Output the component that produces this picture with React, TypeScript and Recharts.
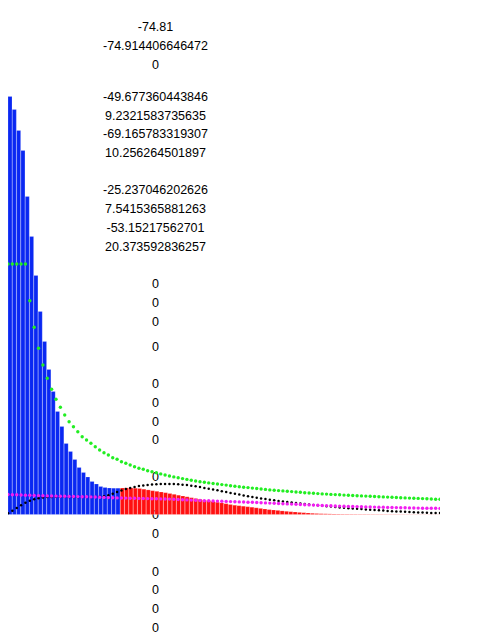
import { ComposedChart, Bar, Cell, Line, XAxis, YAxis } from "recharts";

// 100 bins: the first ones blue, the rest red
const bins = Array.from({ length: 100 }, (_, i) => i + 1);

const blueCounts = [
  418, 405, 384, 364, 318, 278, 239, 203, 173, 145, 123, 103, 88, 71, 63, 55,
  47, 42, 37.5, 33, 30.5, 28, 27, 26.5, 26.3, 26.3,
];

const redCounts = [
  26.5, 26.6, 26.6, 26.3, 26, 25.3, 24.6, 23.8, 23.2, 22.5, 21.8, 21, 20.2,
  19.3, 18.5, 17.7, 16.8, 16, 15.2, 14.4, 13.7, 13, 12.3, 11.6, 10.8, 10, 9.3,
  8.8, 8.3, 7.8, 7.3, 6.7, 6.1, 5.5, 4.9, 4.5, 4.1, 3.6, 3.2, 2.8, 2.5, 2.1,
  1.8, 1.5, 1.2, 1, 0.8, 0.7, 0.6, 0.5, 0.45, 0.4, 0.38, 0.35, 0.33, 0.3, 0.3,
  0.28, 0.26, 0.25, 0.24, 0.22, 0.2, 0.2, 0.18, 0.17, 0.16, 0.15, 0.14, 0.13,
  0.12, 0.12, 0.11, 0.1,
];

const greenCurve = [
  250.5, 250.5, 250.5, 250.5, 250.5, 213.8, 187.2, 166.2, 149.5, 136.2,
  125.2, 115.2, 107.2, 99.5, 92.8, 87.8, 82.8, 77.8, 74.5, 71.2,
  67.8, 64.5, 61.8, 59.5, 56.8, 55.2, 52.8, 51.2, 49.5, 47.8,
  46.2, 45.2, 43.8, 42.8, 41.8, 40.6, 39.5, 38.5, 37.6, 36.7,
  35.9, 35.1, 34.3, 33.5, 32.8, 32.2, 31.6, 31, 30.5, 29.9,
  29.4, 28.8, 28.3, 27.8, 27.3, 26.9, 26.4, 26, 25.5, 25.1,
  24.6, 24.3, 23.9, 23.6, 23.2, 22.9, 22.5, 22.2, 21.8, 21.5,
  21.2, 20.9, 20.6, 20.4, 20.1, 19.9, 19.7, 19.4, 19.2, 19,
  18.8, 18.6, 18.4, 18.2, 18, 17.8, 17.6, 17.4, 17.2, 17,
  16.8, 16.6, 16.4, 16.2, 16.1, 15.9, 15.7, 15.5, 15.3, 15.2,
];

const magentaCurve = [
  20, 19.8, 19.7, 19.5, 19.3, 19.2, 19, 18.9, 18.7, 18.6,
  18.5, 18.4, 18.3, 18.2, 18.1, 18, 17.9, 17.8, 17.7, 17.6,
  17.5, 17.3, 17.1, 16.9, 16.8, 16.6, 16.5, 16.4, 16.3, 16.2,
  16.1, 16, 15.9, 15.8, 15.7, 15.6, 15.5, 15.4, 15.2, 15,
  14.8, 14.6, 14.4, 14.2, 14, 13.8, 13.7, 13.5, 13.4, 13.2,
  13.1, 12.9, 12.8, 12.6, 12.5, 12.3, 12.2, 12, 11.8, 11.6,
  11.4, 11.2, 11, 10.8, 10.6, 10.4, 10.2, 10, 9.8, 9.6,
  9.4, 9.2, 9, 8.9, 8.7, 8.5, 8.4, 8.2, 8.1, 8,
  7.9, 7.8, 7.6, 7.5, 7.4, 7.3, 7.2, 7.1, 7, 6.9,
  6.8, 6.7, 6.6, 6.5, 6.4, 6.3, 6.3, 6.2, 6.2, 6.1,
];

const blackCurve = [
  1.2, 3.8, 6.5, 9.2, 11.8, 13.8, 15.2, 16.2, 17, 17.4,
  17.6, 17.7, 17.7, 17.7, 17.6, 17.6, 17.5, 17.5, 17.5, 17.5,
  17.6, 17.8, 18.3, 19.2, 20.8, 22.4, 24, 25.4, 26.6, 27.6,
  28.4, 29, 29.5, 29.9, 30.2, 30.4, 30.5, 30.5, 30.4, 30.2,
  29.8, 29.4, 28.8, 28.2, 27.4, 26.6, 25.8, 25, 24.2, 23.3,
  22.4, 21.6, 20.8, 19.9, 19.1, 18.3, 17.5, 16.8, 16.1, 15.4,
  14.8, 14.2, 13.6, 13.1, 12.6, 12.1, 11.6, 11.1, 10.6, 10.1,
  9.6, 9.2, 8.8, 8.3, 7.9, 7.5, 7.1, 6.7, 6.3, 6,
  5.7, 5.4, 5.1, 4.8, 4.5, 4.2, 3.9, 3.6, 3.3, 3.1,
  2.9, 2.7, 2.5, 2.3, 2.1, 1.9, 1.7, 1.6, 1.5, 1.4,
];

const notes = [
  "-74.81", "-74.914406646472", "0",
  "-49.677360443846", "9.2321583735635", "-69.165783319307", "10.256264501897",
  "-25.237046202626", "7.5415365881263", "-53.15217562701", "20.373592836257",
  "0", "0", "0", "0", "0", "0", "0", "0", "0", "0", "0", "0", "0", "0", "0",
];

// vertical centre of each note, page pixels
const noteY = [
  27.3, 46, 65, 97.3, 116, 134.3, 153.3, 190, 209.3, 228.3, 246.7, 284, 302.7,
  321.7, 346.7, 384, 402.7, 421.7, 440, 477.3, 515, 534, 571.7, 590, 609, 627.7,
];

const counts = [...blueCounts, ...redCounts];

const rows = bins.map((bin, i) => ({
  bin,
  i,
  count: counts[i],
  green: greenCurve[i],
  magenta: magentaCurve[i],
  black: blackCurve[i],
}));

export default function App() {
  return (
    <div style={{ position: "relative", width: 464, height: 624 }}>
      {notes.map((t, k) => (
        <span
          key={k}
          style={{
            position: "absolute",
            left: 147.5,
            top: noteY[k] - 8,
            transform: "translate(-50%, -50%)",
            whiteSpace: "nowrap",
            fontFamily: "'Liberation Sans', Arial, sans-serif",
            fontSize: 12.5,
            color: "#000",
          }}
        >
          {t}
        </span>
      ))}
      <div style={{ position: "absolute", left: 0, top: 0 }}>
        <ComposedChart
          width={432}
          height={526.5}
          data={rows}
          margin={{ top: 6.5, right: 0, bottom: 0, left: 0 }}
          barCategoryGap={0}
          barGap={0}
        >
          <XAxis
            dataKey="bin"
            interval={0}
            tick={false}
            tickSize={2}
            axisLine={false}
            tickLine={{ stroke: "#222" }}
            height={20}
          />
          <XAxis xAxisId="pt" type="number" dataKey="i" domain={[0, 99]} hide />
          <YAxis domain={[0, 500]} hide />
          <Bar
            dataKey="count"
            stroke="rgba(255,255,255,0.35)"
            strokeWidth={0.5}
            isAnimationActive={false}
          >
            {rows.map((r, k) => (
              <Cell key={k} fill={k < blueCounts.length ? "#0a28f2" : "#ff1010"} />
            ))}
          </Bar>
          <Line
            xAxisId="pt"
            dataKey="black"
            stroke="none"
            dot={{ r: 1.25, fill: "#000", stroke: "none" }}
            activeDot={false}
            isAnimationActive={false}
          />
          <Line
            xAxisId="pt"
            dataKey="green"
            stroke="none"
            dot={{ r: 1.7, fill: "#22ee22", stroke: "none" }}
            activeDot={false}
            isAnimationActive={false}
          />
          <Line
            xAxisId="pt"
            dataKey="magenta"
            stroke="none"
            dot={{ r: 1.7, fill: "#f21ef2", stroke: "none" }}
            activeDot={false}
            isAnimationActive={false}
          />
        </ComposedChart>
      </div>
    </div>
  );
}
